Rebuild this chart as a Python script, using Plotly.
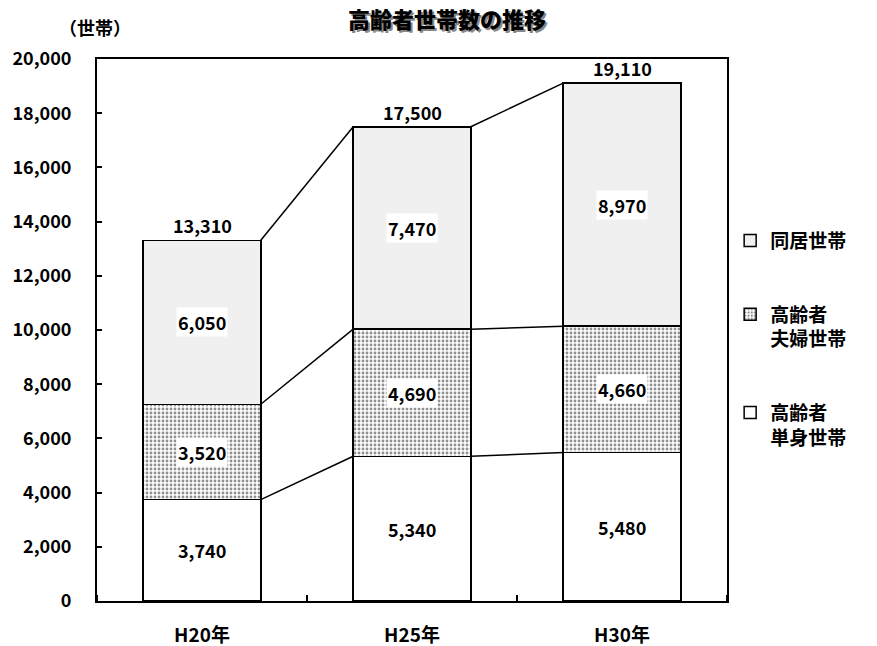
import plotly.graph_objects as go

categories = ["H20年", "H25年", "H30年"]
single = [3740, 5340, 5480]      # 高齢者単身世帯
couple = [3520, 4690, 4660]      # 高齢者夫婦世帯
cohabit = [6050, 7470, 8970]     # 同居世帯
totals = [13310, 17500, 19110]
yticks = [0, 2000, 4000, 6000, 8000, 10000, 12000, 14000, 16000, 18000, 20000]

FONT = "Noto Sans CJK JP"
BW = 0.56
xs = list(range(len(categories)))

fig = go.Figure()

fig.add_trace(go.Bar(x=xs, y=single, width=BW, name="高齢者<br>単身世帯",
                     marker=dict(color="white", line=dict(color="black", width=1.5)),
                     legendgroup="c", legendrank=3, hoverinfo="skip"))
fig.add_trace(go.Bar(x=xs, y=couple, width=BW, name="高齢者<br>夫婦世帯",
                     marker=dict(color="white", line=dict(color="black", width=1.5),
                                 pattern=dict(shape=".", fgcolor="#222", bgcolor="white",
                                              size=4, solidity=0.4)),
                     legendgroup="b", legendrank=2, hoverinfo="skip"))
fig.add_trace(go.Bar(x=xs, y=cohabit, width=BW, name="同居世帯",
                     marker=dict(color="#F0F0F0", line=dict(color="black", width=1.5)),
                     legendgroup="a", legendrank=1, hoverinfo="skip"))

# connector lines between stacked levels
levels = []
for i in xs:
    levels.append([single[i], single[i] + couple[i], single[i] + couple[i] + cohabit[i]])
for i in range(len(xs) - 1):
    for k in range(3):
        fig.add_trace(go.Scatter(x=[xs[i] + BW / 2, xs[i + 1] - BW / 2],
                                 y=[levels[i][k], levels[i + 1][k]],
                                 mode="lines", line=dict(color="black", width=1.5),
                                 showlegend=False, hoverinfo="skip"))

# segment labels
for i in xs:
    base = 0
    for seg in (single, couple, cohabit):
        v = seg[i]
        fig.add_annotation(x=xs[i], y=base + v / 2, text=f"<b>{v:,}</b>", showarrow=False,
                           bgcolor="white", font=dict(family=FONT, size=18, color="black"),
                           borderpad=1)
        base += v
    fig.add_annotation(x=xs[i], y=totals[i], text=f"<b>{totals[i]:,}</b>", showarrow=False,
                       yanchor="bottom", yshift=0,
                       font=dict(family=FONT, size=18, color="black"))

fig.add_annotation(xref="paper", yref="paper", x=0.555, y=1.075, xanchor="center", yanchor="middle",
                   text="高齢者世帯数の推移", showarrow=False,
                   font=dict(family=FONT, size=22, color="black", weight=900,
                             shadow="2px 2px 0px #888"))
fig.add_annotation(xref="paper", yref="paper", x=-0.003, y=1.059, xanchor="center", yanchor="middle",
                   text="<b>（世帯）</b>", showarrow=False,
                   font=dict(family=FONT, size=18, color="black"))

fig.update_layout(
    barmode="stack",
    width=877, height=646,
    margin=dict(l=97, r=150, t=59, b=45),
    paper_bgcolor="white", plot_bgcolor="white",
    font=dict(family=FONT, color="black"),
    legend=dict(x=1.005, y=0.7, xanchor="left", yanchor="top",
                traceorder="grouped", tracegroupgap=46, valign="top",
                font=dict(family=FONT, size=19, color="black", weight="bold"),
                itemwidth=30),
    xaxis=dict(range=[-0.5, 2.5], tickvals=xs, ticktext=[f"<b>{c}</b>" for c in categories],
               ticks="", showline=True, linecolor="black", linewidth=2, mirror=True,
               showgrid=False, zeroline=False, tickfont=dict(family=FONT, size=19),
               minor=dict(ticks="inside", tick0=0.5, dtick=1, ticklen=6, tickcolor="black",
                          tickwidth=1.5, showgrid=False),
               ticklabelstandoff=16, automargin=False),
    yaxis=dict(range=[0, 20000], tickvals=yticks, ticktext=[f"<b>{t:,}</b>" for t in yticks],
               ticks="inside", ticklen=5, tickcolor="black", tickwidth=1.5,
               showline=True, linecolor="black", linewidth=2, mirror=True,
               showgrid=False, zeroline=False, tickfont=dict(family=FONT, size=18),
               ticklabelstandoff=20, automargin=False),
)

fig.write_html("out.html")
